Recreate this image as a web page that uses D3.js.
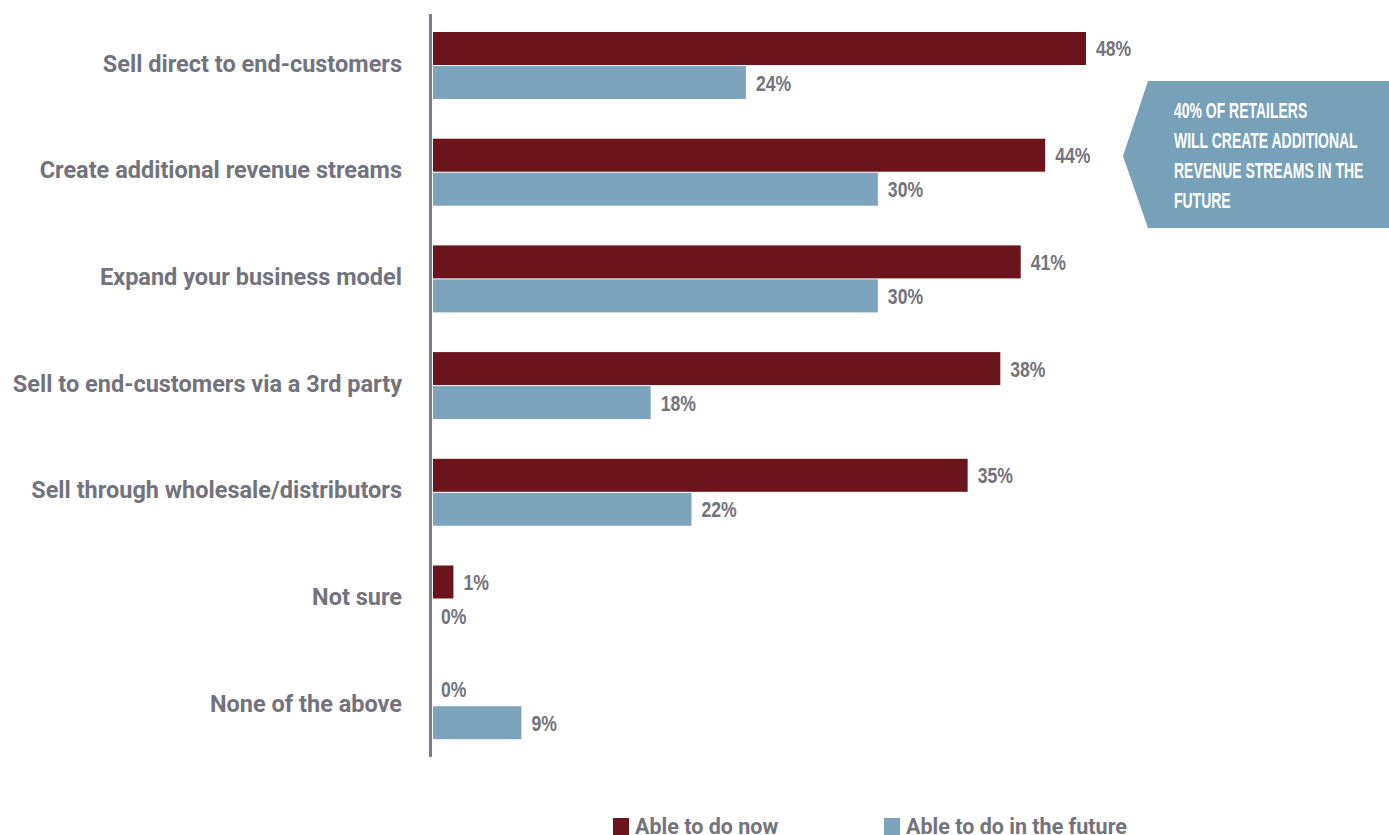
<!DOCTYPE html>
<html>
<head>
<meta charset="utf-8">
<script src="https://cdn.jsdelivr.net/npm/d3@7"></script>
<style>
  html, body { margin: 0; padding: 0; background: #ffffff; }
  svg { display: block; }
</style>
</head>
<body>
<svg id="chart" width="1389" height="835"></svg>
<script>
// ---- data ----
const categories = [
  "Sell direct to end-customers",
  "Create additional revenue streams",
  "Expand your business model",
  "Sell to end-customers via a 3rd party",
  "Sell through wholesale/distributors",
  "Not sure",
  "None of the above"
];
const seriesNames = ["Able to do now", "Able to do in the future"];
// bar lengths (percent units)
const nowBars    = [48, 45.0, 43.2, 41.7, 39.3, 1.5, 0];
const futureBars = [23.0, 32.7, 32.7, 16.0, 19.0, 0, 6.5];
// printed value labels
const nowLabels    = ["48%", "44%", "41%", "38%", "35%", "1%", "0%"];
const futureLabels = ["24%", "30%", "30%", "18%", "22%", "0%", "9%"];
const calloutLines = ["40% OF RETAILERS", "WILL CREATE ADDITIONAL", "REVENUE STREAMS IN THE", "FUTURE"];

// ---- styles ----
const colNow = "#6b141b";
const colFuture = "#7ca4bd";
const colCallout = "#77a0b9";
const colText = "#72737c";
const colAxis = "#7b7c84";
const narrowFont = "'Liberation Sans', Arial, sans-serif";

const svg = d3.select("#chart");

const x = d3.scaleLinear().domain([0, 48]).range([433, 1086]);
const y = d3.scaleBand().domain(categories).range([32, 739.2]).paddingInner(0.372).paddingOuter(0);
const ySub = d3.scaleBand().domain(["now", "future"]).range([0, y.bandwidth()]).paddingInner(0.03);

const rows = categories.map((c, i) => ({
  cat: c,
  bars: [
    { key: "now", v: nowBars[i], label: nowLabels[i], color: colNow },
    { key: "future", v: futureBars[i], label: futureLabels[i], color: colFuture }
  ]
}));

const g = svg.append("g");
const groups = g.selectAll("g.row").data(rows).join("g")
  .attr("class", "row")
  .attr("transform", d => `translate(0,${y(d.cat)})`);

groups.selectAll("rect").data(d => d.bars).join("rect")
  .attr("x", x(0))
  .attr("y", d => ySub(d.key))
  .attr("width", d => x(d.v) - x(0))
  .attr("height", ySub.bandwidth())
  .attr("fill", d => d.color);

groups.selectAll("text.val").data(d => d.bars).join("text")
  .attr("class", "val")
  .attr("transform", d => `translate(${d.v > 0 ? x(d.v) + 10 : x(0) + 8},${ySub(d.key) + ySub.bandwidth() / 2 + 8}) scale(0.8,1)`)
  .attr("font-family", narrowFont)
  .attr("font-weight", 700)
  .attr("font-size", 22)
  .attr("fill", colText)
  .text(d => d.label);

// category labels
groups.append("text")
  .attr("x", 402)
  .attr("y", y.bandwidth() / 2 - 2)
  .attr("text-anchor", "end")
  .attr("dominant-baseline", "central")
  .attr("font-family", "Roboto, sans-serif")
  .attr("font-weight", 700)
  .attr("font-size", 23.5)
  .attr("fill", colText)
  .text(d => d.cat);

// axis line
svg.append("line")
  .attr("x1", 430.5).attr("x2", 430.5)
  .attr("y1", 14).attr("y2", 757)
  .attr("stroke", colAxis).attr("stroke-width", 3);

// callout
const co = svg.append("g");
co.append("polygon")
  .attr("points", [[1123, 156], [1148, 81], [1389, 81], [1389, 228], [1148, 228]].map(p => p.join(",")).join(" "))
  .attr("fill", colCallout);
const coText = co.append("g").attr("transform", "translate(1174,0) scale(0.65,1)");
coText.selectAll("text").data(calloutLines).join("text")
  .attr("x", 0)
  .attr("y", (d, i) => 118 + i * 30)
  .attr("font-family", narrowFont)
  .attr("font-weight", 700)
  .attr("font-size", 21.5)
  .attr("fill", "#ffffff")
  .text(d => d);

// legend
const legendX = [613, 884];
const lg = svg.append("g");
const items = lg.selectAll("g").data(seriesNames).join("g")
  .attr("transform", (d, i) => `translate(${legendX[i]},0)`);
items.append("rect")
  .attr("x", 0).attr("y", 818).attr("width", 16).attr("height", 17)
  .attr("fill", (d, i) => i === 0 ? colNow : colFuture);
items.append("text")
  .attr("x", 22).attr("y", 834)
  .attr("font-family", "Roboto, sans-serif")
  .attr("font-weight", 700)
  .attr("font-size", 21.5)
  .attr("fill", colText)
  .text(d => d);
</script>
</body>
</html>
